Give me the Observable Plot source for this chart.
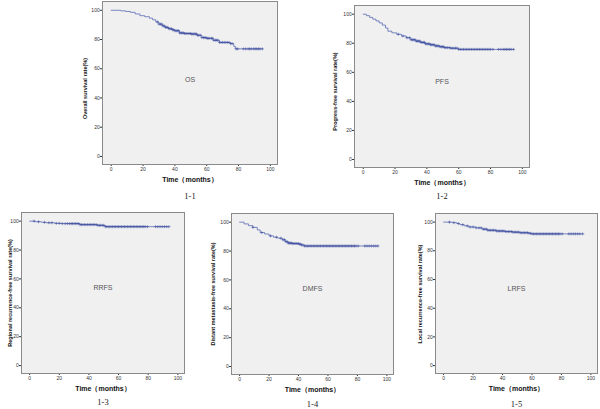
<!DOCTYPE html>
<html><head><meta charset="utf-8">
<script src="https://cdn.jsdelivr.net/npm/d3@7"></script>
<script src="https://cdn.jsdelivr.net/npm/@observablehq/plot@0.6"></script>
<style>
html,body{margin:0;padding:0;background:#fff;}
#root{position:relative;width:600px;height:409px;overflow:hidden;background:#fff;}
#root svg{position:absolute;}
</style></head><body><div id="root"></div>
<script>
// ---- data ----
const xTicks = [0, 20, 40, 60, 80, 100];
const yTicks = [0, 20, 40, 60, 80, 100];
const xTitle = "Time（months）";

// OS
const osTime = [0, 6, 9, 12, 15, 18, 21, 24, 26, 28, 30, 32, 34, 36, 38, 40, 43, 46, 50, 54, 57, 60, 64, 68, 75, 77, 78];
const osSurv = [100, 99.6, 99.2, 98.6, 97.5, 96.3, 95.6, 94.6, 93.5, 92, 90.5, 89.3, 88.3, 87.4, 86.7, 86, 84.5, 84.1, 83.8, 82.9, 81.3, 80.8, 79.5, 78, 77.2, 75.3, 73.6];
const osCensor = [29, 30, 31, 31.8, 32.5, 33.3, 34, 34.8, 35.5, 36.3, 37, 37.8, 38.5, 39.2, 40, 40.8, 41.5, 42.3, 43, 43.8, 44.5, 45.3, 46, 46.8, 47.5, 48.3, 49, 49.8, 50.5, 51.3, 52, 52.8, 53.5, 54.3, 55, 56, 57, 58, 58.8, 59.5, 60.3, 61, 62, 63, 63.8, 64.5, 65.5, 66.3, 67, 68, 69, 70, 71, 72, 73, 74, 75, 76, 78.5, 79.5, 83, 84.5, 86, 87, 88, 89.5, 90.5, 91.5, 92.5, 93.5, 95];

// PFS
const pfsTime = [0, 2, 4, 6, 8, 10, 12, 14, 15.5, 18, 21, 24, 27, 30, 33, 36, 39, 42, 45, 48, 51, 55, 60];
const pfsSurv = [100, 99, 97.8, 96.6, 95.4, 94, 92.5, 90.5, 88.3, 87.2, 86.2, 85, 83.8, 82.4, 81.5, 80.6, 79.6, 79, 78.2, 77.6, 77, 76.6, 75.8];
const pfsCensor = [22, 25, 27.5, 29, 30, 31, 31.8, 32.5, 33.3, 34, 34.8, 35.5, 36.3, 37, 37.8, 38.5, 39.2, 40, 40.8, 41.5, 42.3, 43, 43.8, 44.5, 45.3, 46, 46.8, 47.5, 48.3, 49, 49.8, 50.5, 51.3, 52, 53, 54, 55, 56, 57, 58, 59, 60, 61, 62, 63, 64, 65, 66, 67, 68, 69, 70, 71, 72, 73, 74, 75, 76, 77, 78, 79, 80, 81.5, 85, 86.5, 88, 89, 90, 91, 92, 93, 94.5];

// RRFS
const rrfsTime = [0, 4, 8, 11, 17, 22, 34, 46, 51];
const rrfsSurv = [100, 99.6, 99.2, 98.9, 98.5, 98.3, 97.6, 97.1, 96.2];
const rrfsCensor = [3, 6, 10, 13, 15, 18, 20, 22, 24, 25.5, 27, 28, 29, 30, 31, 32, 33, 34, 35, 36, 37, 38, 39, 40, 41, 42, 43, 44, 45, 46, 47, 48, 49, 50, 51, 52, 53, 54, 55, 56, 57, 58, 59, 60, 61, 62, 63, 64, 65, 66, 67, 68, 69, 70, 71, 72, 73, 74, 75, 76, 77, 78, 79.5, 85, 86.5, 88, 89.5, 91, 92.5, 94];

// DMFS
const dmfsTime = [0, 3, 6, 9, 12, 14, 17, 20, 23, 26, 29, 31, 33, 36, 40, 42, 44];
const dmfsSurv = [100, 98.8, 97.6, 96.4, 94.6, 92.8, 91.8, 90.5, 89.6, 88.9, 87.8, 86.5, 85.5, 85.2, 84.8, 84.2, 83.5];
const dmfsCensor = [9, 15, 21, 25, 28, 29.5, 30.5, 31.5, 32.3, 33, 33.8, 34.5, 35.3, 36, 36.8, 37.5, 38.3, 39, 39.8, 40.5, 41.3, 42, 43, 44, 45, 46, 47, 48, 49, 50, 51, 52, 53, 54, 55, 56, 57, 58, 59, 60, 61, 62, 63, 64, 65, 66, 67, 68, 69, 70, 71, 72, 73, 74, 75, 76, 77, 78, 79, 80.5, 85, 86.5, 88, 89.5, 91, 92.5, 94];

// LRFS
const lrfsTime = [0, 6, 9, 11, 14, 17, 22, 26, 30, 36, 42, 47, 52, 58, 60];
const lrfsSurv = [100, 99.6, 99, 98.2, 97.4, 96.6, 96, 95.1, 94.3, 93.8, 93.4, 93, 92.6, 92.2, 91.8];
const lrfsCensor = [4, 7, 10, 13, 16, 18, 20, 22, 24, 25.5, 27, 28, 29, 30, 31, 32, 33, 34, 35, 36, 37, 38, 39, 40, 41, 42, 43, 44, 45, 46, 47, 48, 49, 50, 51, 52, 53, 54, 55, 56, 57, 58, 59, 60, 61, 62, 63, 64, 65, 66, 67, 68, 69, 70, 71, 72, 73, 74, 75, 76, 77, 78, 79, 80.5, 85, 86.5, 88, 89.5, 91, 92.5, 94.5];

// ---- layout ----
const panels = [
  {name: "OS", yTitle: "Overall survival rate(%)", caption: "1-1", time: osTime, surv: osSurv, censor: osCensor,
   frame: [102, 1, 277, 164], tDx: -17, tDy: 5.5, tLen: 58, nDy: -3, capDy: 32},
  {name: "PFS", yTitle: "Progress-free survival rate(%)", caption: "1-2", time: pfsTime, surv: pfsSurv, censor: pfsCensor,
   frame: [354, 5, 529, 167], tDx: -19, tDy: 5, tLen: 76, nDy: -5, capDy: 29},
  {name: "RRFS", yTitle: "Regional recurrence-free survival rate(%)", caption: "1-3", time: rrfsTime, surv: rrfsSurv, censor: rrfsCensor,
   frame: [21, 212, 184, 373], tDx: -11, tDy: 0, tLen: 120, nDy: -5, capDy: 29},
  {name: "DMFS", yTitle: "Distant metastasis-free survival rate(%)", caption: "1-4", time: dmfsTime, surv: dmfsSurv, censor: dmfsCensor,
   frame: [231, 213, 393, 374], tDx: -18, tDy: 0, tLen: 110, nDy: -5, capDy: 29.5},
  {name: "LRFS", yTitle: "Local recurrence-free survival rate(%)", caption: "1-5", time: lrfsTime, surv: lrfsSurv, censor: lrfsCensor,
   frame: [435, 213, 597, 373], tDx: -15, tDy: 0.5, tLen: 107, nDy: -5, capDy: 30.5}
];

function survAt(times, surv, t) {
  let s = surv[0];
  for (let i = 0; i < times.length; i++) if (times[i] <= t) s = surv[i];
  return s;
}

const root = document.getElementById("root");
const lineColor = "#5b6cb3";
const censorColor = "#3e4f9f";

for (const p of panels) {
  const [fl, ft, fr, fb] = p.frame;
  const ml = 34, mt = 3, mr = 3, mb = 42;
  const lastT = p.censor[p.censor.length - 1];
  const lineData = p.time.map((t, i) => ({t, s: p.surv[i]}));
  lineData.push({t: lastT, s: p.surv[p.surv.length - 1]});
  const censorData = p.censor.map(t => ({t, s: survAt(p.time, p.surv, t)}));

  const svg = Plot.plot({
    width: fr - fl + ml + mr,
    height: fb - ft + mt + mb,
    marginLeft: ml, marginTop: mt, marginRight: mr, marginBottom: mb,
    x: {domain: [-5.5, 104.5]},
    y: {domain: [-5.5, 106]},
    style: {fontFamily: "'Liberation Sans', Arial, sans-serif", fontSize: "5px", background: "transparent", overflow: "visible", color: "#333"},
    marks: [
      Plot.frame({fill: "#f0f0f1"}),
      Plot.axisX({ticks: xTicks, tickSize: 2, tickPadding: 1, label: null, fontSize: 5}),
      Plot.axisY({ticks: yTicks, tickSize: 2, tickPadding: 0.8, label: null, fontSize: 5}),
      Plot.line(lineData, {x: "t", y: "s", curve: "step-after", stroke: lineColor, strokeWidth: 0.8}),
      Plot.dot(censorData, {x: "t", y: "s", symbol: "plus", r: 1.05, stroke: censorColor, strokeWidth: 0.55}),
      Plot.frame({stroke: "#8a8a8a", strokeWidth: 1}),
      Plot.text([p.name], {frameAnchor: "middle", dy: p.nDy, fontSize: 7, fill: "#555"}),
      Plot.text([p.yTitle], {ariaLabel: "ytitle", frameAnchor: "left", textAnchor: "middle", lineAnchor: "middle", dx: p.tDx, dy: p.tDy, rotate: -90, fontSize: 5.5, fontWeight: "bold", fill: "#111"}),
      Plot.text([xTitle], {frameAnchor: "bottom", textAnchor: "middle", lineAnchor: "middle", dy: 15, fontSize: 7, fontWeight: "bold", fill: "#111"}),
      Plot.text([p.caption], {frameAnchor: "bottom", textAnchor: "middle", lineAnchor: "middle", dy: p.capDy, fontSize: 8.5, fontFamily: "'Liberation Serif', 'Times New Roman', serif", fill: "#222"})
    ]
  });
  const tt = svg.querySelector('g[aria-label="ytitle"] text');
  if (tt) {
    tt.setAttribute("textLength", p.tLen);
    tt.setAttribute("lengthAdjust", "spacingAndGlyphs");
  }
  svg.style.left = (fl - ml) + "px";
  svg.style.top = (ft - mt) + "px";
  root.appendChild(svg);
}
</script>
</body></html>
